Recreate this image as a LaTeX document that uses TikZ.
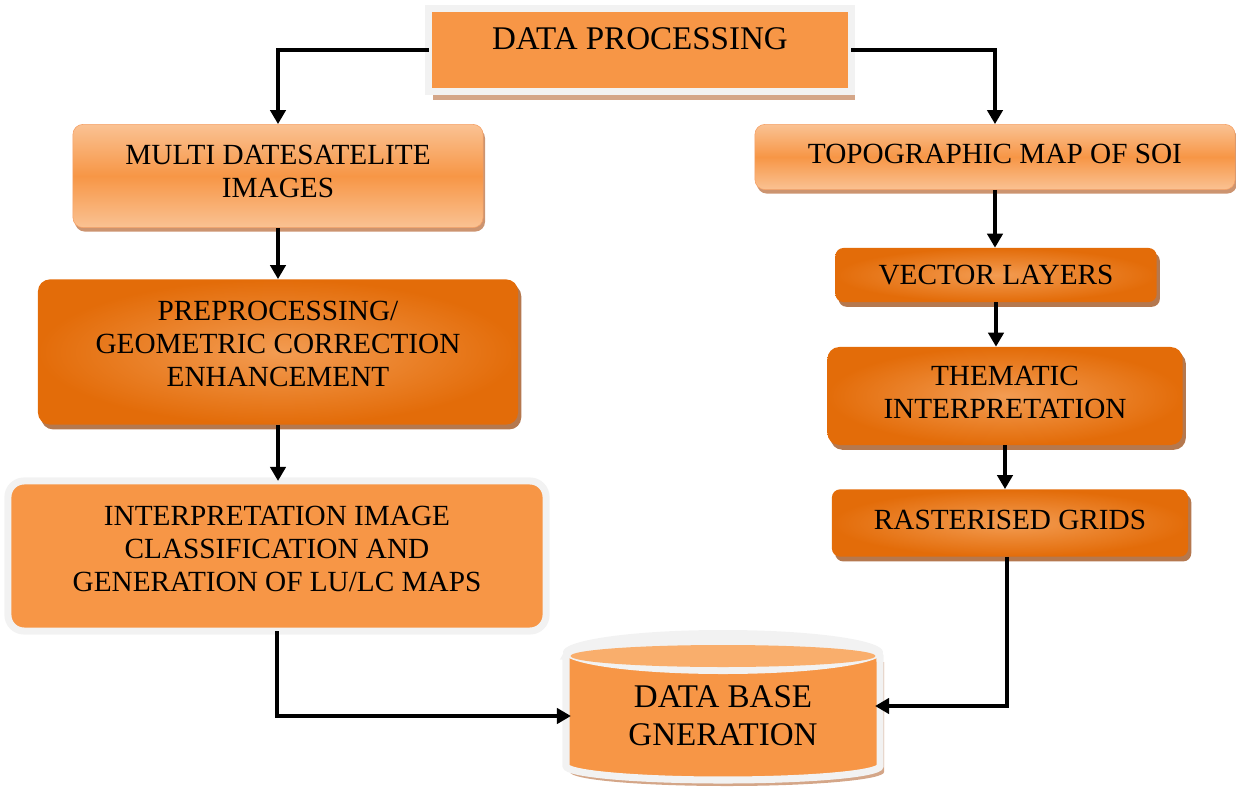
\documentclass[tikz,border=0pt]{standalone}
\usepackage{fontspec}
\setmainfont{Liberation Serif}
\usetikzlibrary{arrows.meta, positioning, shadows, calc}

\definecolor{orflat}{HTML}{F79646}
\definecolor{orlight}{HTML}{FAC293}
\definecolor{oredge}{HTML}{F5A065}
\definecolor{orcentre}{HTML}{F39C52}
\definecolor{ordark}{HTML}{E36C09}
\definecolor{framegray}{HTML}{F2F2F2}
\definecolor{cyltop}{HTML}{F9AE6C}
\definecolor{tanshadow}{HTML}{D4A688}
\definecolor{lightshadow}{HTML}{CC9470}
\definecolor{darkshadow}{HTML}{B5784E}

\begin{document}
\begin{tikzpicture}[x=0.025cm, y=-0.025cm,
  every node/.style={font=\fontsize{20.8}{23.5}\selectfont, align=center},
  bigtext/.style={font=\fontsize{23.5}{27}\selectfont},
  framed/.style={rectangle, draw=framegray, line width=5pt, fill=orflat,
    outer sep=0pt},
  lightbox/.style={rectangle, draw=oredge, thin, rounded corners=0.25cm,
    top color=orlight, bottom color=orlight, middle color=orflat,
    drop shadow={shadow xshift=0.05cm, shadow yshift=-0.1cm,
      fill=lightshadow, opacity=1}},
  darkbox/.style={rectangle, rounded corners=0.3cm,
    inner color=orcentre, outer color=ordark,
    drop shadow={shadow xshift=0.08cm, shadow yshift=-0.12cm,
      fill=darkshadow, opacity=1}},
  conn/.style={line width=3pt, -{Triangle[length=0.35cm, width=0.38cm]}}
]
  \useasboundingbox (0,0) rectangle (1236,794);

  % Top box
  \node[framed, bigtext, minimum width=10.55cm, minimum height=2.08cm,
    text height=0.5cm, text depth=0.5cm,
    drop shadow={shadow xshift=0.1cm, shadow yshift=-0.2cm,
      fill=tanshadow, opacity=1}] (dp) at (640,50) {DATA PROCESSING};

  % Left column
  \node[lightbox, text depth=0.25cm, minimum width=10.25cm,
    minimum height=2.58cm] (msi) at (278,176) {MULTI DATESATELITE\\IMAGES};
  \node[darkbox, text depth=0.4cm, minimum width=12cm, minimum height=3.63cm]
    (pre) at (278,352) {PREPROCESSING/\\GEOMETRIC CORRECTION\\ENHANCEMENT};
  \node[framed, rounded corners=0.4cm, text depth=0.35cm,
    minimum width=13.45cm, minimum height=3.75cm] (interp) at (277,556)
    {INTERPRETATION IMAGE\\CLASSIFICATION AND\\GENERATION OF LU/LC MAPS};

  % Right column
  \node[lightbox, text depth=0.15cm, minimum width=12cm, minimum height=1.63cm]
    (topo) at (995,157) {TOPOGRAPHIC MAP OF SOI};
  \node[darkbox, rounded corners=0.2cm, minimum width=8.03cm,
    minimum height=1.35cm] (vec) at (996,275) {VECTOR LAYERS};
  \node[darkbox, text depth=0.2cm, minimum width=8.88cm, minimum height=2.45cm]
    (them) at (1005,396) {THEMATIC\\INTERPRETATION};
  \node[darkbox, rounded corners=0.2cm, text depth=0.15cm, minimum width=8.9cm,
    minimum height=1.68cm] (ras) at (1010,523) {RASTERISED GRIDS};

  % Data base cylinder
  \begin{scope}[xshift=0.1cm, yshift=-0.15cm]
    \fill[tanshadow] (566,656) -- (566,766)
      arc[start angle=180, end angle=360, x radius=3.925cm, y radius=0.35cm]
      -- (880,656) -- cycle;
  \end{scope}
  \filldraw[draw=framegray, fill=orflat, line width=5pt] (566,656) -- (566,766)
    arc[start angle=180, end angle=360, x radius=3.925cm, y radius=0.35cm]
    -- (880,656)
    arc[start angle=0, end angle=180, x radius=3.925cm, y radius=0.35cm]
    -- cycle;
  \fill[framegray] (723,652) ellipse[x radius=4cm, y radius=0.55cm];
  \fill[cyltop] (723,656) ellipse[x radius=3.81cm, y radius=0.275cm];
  \node[bigtext, minimum width=7.6cm, minimum height=2cm, inner sep=0pt,
    outer sep=0pt] (db) at (723,716) {DATA BASE\\GNERATION};

  % Connections
  \draw[conn] (dp.west) -| (msi.north);
  \draw[conn] (dp.east) -| (topo.north);
  \draw[conn] (msi.south) -- (msi.south |- pre.north);
  \draw[conn] (pre.south) -- (pre.south |- interp.north);
  \draw[conn] (interp.south) |- (db.west);
  \draw[conn] (topo.south) -- (topo.south |- vec.north);
  \draw[conn] (vec.south) -- (vec.south |- them.north);
  \draw[conn] (them.south) -- (them.south |- ras.north);
  \draw[conn] ([xshift=-0.075cm]ras.south) |- ([yshift=0.25cm]db.east);
\end{tikzpicture}
\end{document}
